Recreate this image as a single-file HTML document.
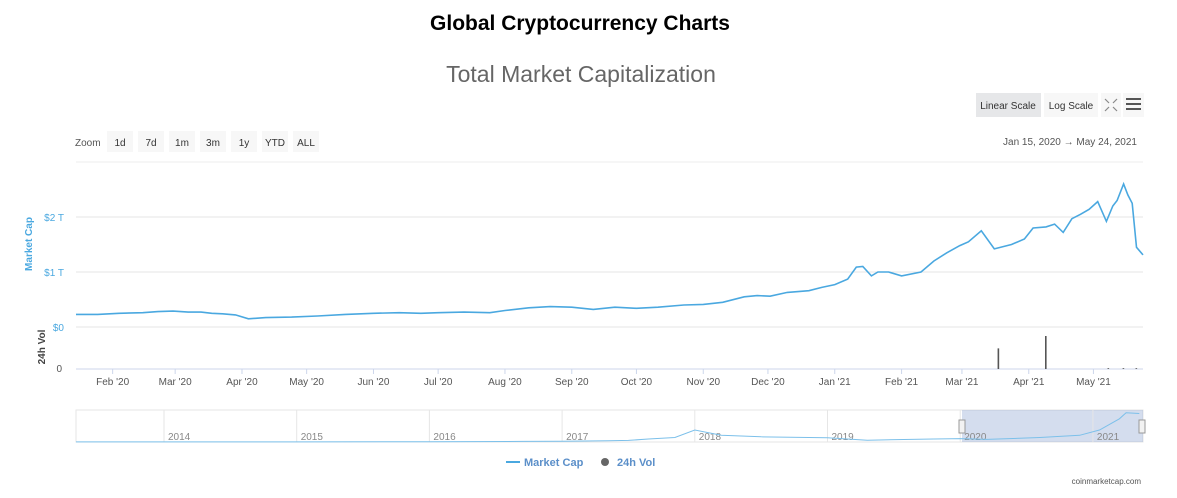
<!DOCTYPE html>
<html><head><meta charset="utf-8"><style>
body{margin:0;background:#fff;width:1177px;height:493px;overflow:hidden;font-family:"Liberation Sans",sans-serif}
svg text{font-family:"Liberation Sans",sans-serif}
</style></head><body>
<svg id="c" width="1177" height="493">
<text x="580" y="30" text-anchor="middle" font-size="21" font-weight="bold" fill="#000">Global Cryptocurrency Charts</text>
<text x="581" y="82" text-anchor="middle" font-size="23" fill="#666">Total Market Capitalization</text>
<g><rect x="976" y="93" width="65" height="24" fill="#e6e7e9"/><text x="1008" y="109" text-anchor="middle" font-size="10" fill="#333">Linear Scale</text></g>
<g><rect x="1044" y="93" width="54" height="24" fill="#f7f7f7"/><text x="1071" y="109" text-anchor="middle" font-size="10" fill="#333">Log Scale</text></g>
<g><rect x="1101" y="93" width="20" height="24" fill="#f7f7f7"/><path d="M1105 99l4 4M1117 99l-4 4M1105 111l4-4M1117 111l-4-4" stroke="#888" stroke-width="1.2"/></g>
<g><rect x="1123" y="93" width="21" height="24" fill="#f7f7f7"/><path d="M1126 99h15M1126 104h15M1126 109h15" stroke="#555" stroke-width="2"/></g>
<text x="75" y="146" font-size="10" fill="#555">Zoom</text>
<g id="zb"></g>
<text x="1137" y="145" text-anchor="end" font-size="10" fill="#555">Jan 15, 2020 &#8594; May 24, 2021</text>
<g id="grid"></g>
<text transform="translate(32,244) rotate(-90)" text-anchor="middle" font-size="10" font-weight="bold" fill="#4aa8e0">Market Cap</text>
<text transform="translate(45,347) rotate(-90)" text-anchor="middle" font-size="10" font-weight="bold" fill="#444">24h Vol</text>
<text x="62" y="372" text-anchor="end" font-size="10" fill="#555">0</text>
<g id="marks"></g>
<g id="nav"></g>
<g><path d="M506 462h14" stroke="#4aa8e0" stroke-width="2"/><text x="524" y="466" font-size="11" font-weight="bold" fill="#5b8fc9">Market Cap</text></g>
<g><circle cx="605" cy="462" r="4" fill="#666"/><text x="617" y="466" font-size="11" font-weight="bold" fill="#5b8fc9">24h Vol</text></g>
<text x="1141" y="484" text-anchor="end" font-size="8" fill="#555">coinmarketcap.com</text>
</svg>
<script>
const zoomLabels=["1d","7d","1m","3m","1y","YTD","ALL"];
const yTicks=[0,1,2];
const yTickLabels=["$0","$1 T","$2 T"];
const monthLabels=["Feb '20","Mar '20","Apr '20","May '20","Jun '20","Jul '20","Aug '20","Sep '20","Oct '20","Nov '20","Dec '20","Jan '21","Feb '21","Mar '21","Apr '21","May '21"];
const monthDays=[17,46,77,107,138,168,199,230,260,291,321,352,383,411,442,472];
// market cap (trillion USD) at day offsets from Jan 15 2020
const capDays=[0,10,20,31,38,45,52,58,63,68,74,80,88,100,112,125,138,150,160,168,180,192,199,210,220,230,240,250,260,270,282,291,300,310,316,322,330,340,346,352,358,362,365,369,372,377,383,392,398,404,410,414,420,426,434,440,444,450,454,458,462,466,470,474,478,481,483,486,488,490,492,495];
const capValues=[0.23,0.23,0.25,0.26,0.28,0.29,0.27,0.27,0.25,0.24,0.22,0.15,0.17,0.18,0.2,0.23,0.25,0.26,0.25,0.26,0.27,0.26,0.3,0.35,0.37,0.36,0.32,0.36,0.34,0.36,0.4,0.41,0.45,0.55,0.57,0.56,0.63,0.66,0.72,0.77,0.87,1.09,1.1,0.93,1.0,1.0,0.93,1.0,1.2,1.35,1.48,1.55,1.75,1.42,1.5,1.6,1.8,1.82,1.87,1.72,1.97,2.05,2.14,2.28,1.92,2.2,2.3,2.6,2.4,2.25,1.45,1.31];
const volDays=[428,450,479,486,492];
const volValues=[375,600,15,15,15];
const navYears=["2014","2015","2016","2017","2018","2019","2020","2021"];
const navYearPos=[0,1,2,3,4,5,6,7];
const navTimes=[-0.9,0,1,2,2.7,3.0,3.35,3.5,3.65,3.85,4.0,4.2,4.5,5.0,5.3,5.8,6.0,6.2,6.6,6.9,7.05,7.2,7.25,7.35];
const navValues=[0.01,0.01,0.01,0.02,0.04,0.05,0.08,0.11,0.2,0.3,0.8,0.45,0.35,0.28,0.12,0.2,0.23,0.17,0.3,0.45,0.8,1.55,1.95,1.9];

const NS="http://www.w3.org/2000/svg";
function mk(t,a,p){const e=document.createElementNS(NS,t);for(const k in a)e.setAttribute(k,a[k]);p.appendChild(e);return e;}
const X0=76,X1=1143,TOT=495;
const xs=d=>X0+(X1-X0)*d/TOT;
const ys=v=>327-55*v;
const yv=v=>369-33*v/600;
const zb=document.getElementById('zb');
zoomLabels.forEach((l,i)=>{const g=mk('g',{},zb);


const x=107+i*31;mk('rect',{x:x,y:131,width:26,height:21,fill:'#f7f7f7'},g);
const t=mk('text',{x:x+13,y:146,'text-anchor':'middle','font-size':10,fill:'#333'},g);t.textContent=l;});
const grid=document.getElementById('grid');
mk('line',{x1:X0,x2:X1,y1:162,y2:162,stroke:'#eee'},grid);
yTicks.forEach((v,i)=>{mk('line',{x1:X0,x2:X1,y1:ys(v),y2:ys(v),stroke:'#e6e6e6'},grid);
const t=mk('text',{x:64,y:ys(v)+4,'text-anchor':'end','font-size':10,fill:'#4aa8e0'},grid);


t.textContent=yTickLabels[i];});
mk('line',{x1:X0,x2:X1,y1:369,y2:369,stroke:'#ccd6eb'},grid);
monthDays.forEach((d,i)=>{mk('line',{x1:xs(d),x2:xs(d),y1:369,y2:374,stroke:'#ccd6eb'},grid);
const t=mk('text',{x:xs(d),y:385,'text-anchor':'middle','font-size':10,fill:'#555'},grid);


t.textContent=monthLabels[i];});
const marks=document.getElementById('marks');
volDays.forEach((d,i)=>{const r=mk('rect',{x:xs(d)-1,y:yv(volValues[i]),width:1.6,height:369-yv(volValues[i]),fill:'#555'},marks);

});
const p=mk('path',{d:capDays.map((d,i)=>(i?'L':'M')+xs(d).toFixed(1)+' '+ys(capValues[i]).toFixed(1)).join(''),fill:'none',stroke:'#4aa8e0','stroke-width':1.6},marks);


const nav=document.getElementById('nav');
const nx=t=>164+132.7*t, ny=v=>442-15*v;
mk('rect',{x:X0,y:410,width:X1-X0,height:32,fill:'#fff',stroke:'#e6e6e6'},nav);
const sel=mk('rect',{x:962,y:410,width:X1-962,height:32,fill:'rgba(102,133,194,0.28)'},nav);


navYears.forEach((y,i)=>{mk('line',{x1:nx(navYearPos[i]),x2:nx(navYearPos[i]),y1:410,y2:442,stroke:'#e6e6e6'},nav);
const t=mk('text',{x:nx(navYearPos[i])+4,y:440,'font-size':10,fill:'#888'},nav);


t.textContent=y;});
const np=mk('path',{d:navTimes.map((t,i)=>(i?'L':'M')+Math.max(X0,nx(t)).toFixed(1)+' '+ny(navValues[i]).toFixed(1)).join(''),fill:'none',stroke:'#7cc0ea','stroke-width':1},nav);


[962,1142].forEach(x=>{const h=mk('rect',{x:x-3,y:420,width:6,height:13,fill:'#f2f2f2',stroke:'#999'},nav);

});
</script>
</body></html>
